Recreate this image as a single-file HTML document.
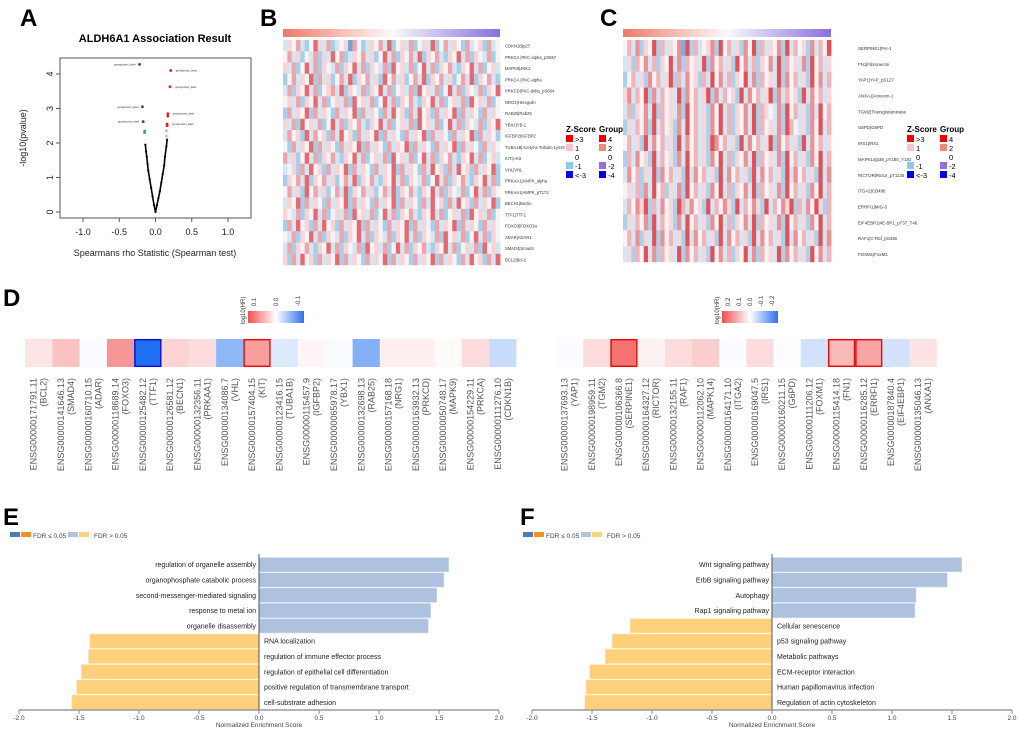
<!DOCTYPE html>
<html><head><meta charset="utf-8"><style>
html,body{margin:0;padding:0;background:#fff}
svg{display:block;font-family:"Liberation Sans",sans-serif}
</style></head><body>
<svg id="fig" width="1020" height="730" viewBox="0 0 1020 730">
<defs>
<linearGradient id="gB" x1="0" x2="1"><stop offset="0" stop-color="#f07a6a"/><stop offset="0.5" stop-color="#fafafa"/><stop offset="1" stop-color="#8a6ee0"/></linearGradient>
<linearGradient id="gD" x1="0" x2="1"><stop offset="0" stop-color="#f05050"/><stop offset="0.5" stop-color="#ffffff"/><stop offset="1" stop-color="#3070f0"/></linearGradient>
</defs>
<g id="panels"></g>
</svg>
<script>
// ---------- Panel A data ----------
const aRho = [0,-0.02,-0.04,-0.06,-0.08,-0.10,-0.11,-0.12,-0.13,-0.14,0.02,0.04,0.06,0.08,0.10,0.12,0.13,0.15,0.16];
const aLogP = [0,0.2,0.45,0.7,0.95,1.2,1.4,1.6,1.75,1.95,0.2,0.4,0.6,0.85,1.1,1.35,1.6,1.9,2.1];
const aSigRho = [-0.22,-0.18,-0.17,-0.15,-0.15,0.21,0.20,0.17,0.17,0.16,0.16,0.15,0.15];
const aSigLogP = [4.28,3.05,2.62,2.35,2.3,4.1,3.63,2.85,2.78,2.55,2.5,2.35,2.2];
const aSigCol = ['#1a5e1a','#1a5e1a','#1a5e1a','#3cb04a','#3cb04a','#e02020','#e02020','#e02020','#e02020','#e02020','#e02020','#f4a0a0','#f4a0a0'];
const aXTicks = [-1.0,-0.5,0.0,0.5,1.0];
const aYTicks = [0,1,2,3,4];
// ---------- Panel B / C heatmap data (digits 0..8 = z-score bins) ----------
const bRows = ["CDKN1B|p27","PRKCA |PKC-alpha_pS657","MAPK9|JNK2","PRKCA |PKC-alpha","PRKCD|PKC-delta_pS664","NRG1|Heregulin","RAB25|Rab25","YBX1|YB-1","IGFBP2|IGFBP2","TUBA1B|Acetyl-a-Tubulin-Lys40","KIT|c-Kit","VHL|VHL","PRKAA1|AMPK_alpha","PRKAA1|AMPK_pT172","BECN1|Beclin","TTF1|TTF1","FOXO3|FOXO3a","ADAR|ADAR1","SMAD4|Smad4","BCL2|Bcl-2"];
const bVals = [
"35463247536234516423546372453624537246354263452634",
"46352436253746235463524736254637254632547362543624",
"53624736254362547362543627453624736254632547362453",
"24635472635246372546352746352463725463524637254632",
"36254736245637254362547362453627453624736254362547",
"45362547362453627453624736254632547362453627453624",
"26354726354263547263542637452637452635472635426354",
"53627453624736254632547362453627453624736254362547",
"36452736452637452635472635426354726354263547263542",
"42635472635426354726354263547263542635472635426354",
"63524736254632547362453627453624736254632547362453",
"34526374526354726354263547263542637452637452635472",
"25463725463524637254632547362543624736254632547362",
"46352746352463725463524637254632547362543624736254",
"35472635426354726354263547263542637452637452635472",
"54362547362453627453624736254632547362453627453624",
"26374526374526354726354263547263542635472635426354",
"43625473625436254736254362547362543627453624736254",
"36254632547362543627453624736254632547362453627453",
"52637452635472635426354726354263547263542637452637"];
const cRows = ["SERPINE1|PAI-1","FN1|Fibronectin","YAP1|YAP_pS127","ANXA1|Annexin-1","TGM2|Transglutaminase","G6PD|G6PD","IRS1|IRS1","MAPK14|p38_pT180_Y182","RICTOR|Rictor_pT1135","ITGA2|CD49b","ERRFI1|MIG-6","EIF4EBP1|4E-BP1_pT37_T46","RAF1|C-Raf_pS338","FOXM1|FoxM1"];
const cVals = [
"46372548263547182634572846352748263547283645273648",
"35264736254837264538274635284736254738264537284635",
"24635274635826374526384736254837264538274635284736",
"57364827364538274635827364528374635827364528374635",
"36254738264537284635274836254738265437284635273846",
"25364728364527384635274836254738264537286435274836",
"46352837463528374635287463528374635827463528374635",
"26374528364527384635274836254738264537284635274836",
"37462538274635283746352837463528374635283746352837",
"45362738462537284635274836254738264537284635274836",
"36475826374528637452836475283647528364758263748526",
"25364728364527384635274836254738264537284635274836",
"46372538274635283746352837463528374635283746352837",
"35264837264538274635284736254837264538274635284736"];
// ---------- Panel D data ----------
const dGenes = ["BCL2","SMAD4","ADAR","FOXO3","TTF1","BECN1","PRKAA1","VHL","KIT","TUBA1B","IGFBP2","YBX1","RAB25","NRG1","PRKCD","MAPK9","PRKCA","CDKN1B"];
const dIds = ["ENSG00000171791.11","ENSG00000141646.13","ENSG00000160710.15","ENSG00000118689.14","ENSG00000125482.12","ENSG00000126581.12","ENSG00000132356.11","ENSG00000134086.7","ENSG00000157404.15","ENSG00000123416.15","ENSG00000115457.9","ENSG00000065978.17","ENSG00000132698.13","ENSG00000157168.18","ENSG00000163932.13","ENSG00000050748.17","ENSG00000154229.11","ENSG00000111276.10"];
const dHR = [0.03,0.07,-0.005,0.12,-0.2,0.05,0.04,-0.1,0.11,-0.03,0.01,-0.005,-0.11,0.02,0.02,0.005,0.04,-0.05];
const dSig = [0,0,0,0,1,0,0,0,1,0,0,0,0,0,0,0,0,0];
const d2Genes = ["YAP1","TGM2","SERPINE1","RICTOR","RAF1","MAPK14","ITGA2","IRS1","G6PD","FOXM1","FN1","ERRFI1","EIF4EBP1","ANXA1"];
const d2Ids = ["ENSG00000137693.13","ENSG00000198959.11","ENSG00000106366.8","ENSG00000164327.12","ENSG00000132155.11","ENSG00000112062.10","ENSG00000164171.10","ENSG00000169047.5","ENSG00000160211.15","ENSG00000111206.12","ENSG00000115414.18","ENSG00000116285.12","ENSG00000187840.4","ENSG00000135046.13"];
const d2HR = [-0.005,0.05,0.2,0.02,0.05,0.07,-0.005,0.05,-0.003,-0.05,0.1,0.13,-0.05,0.04];
const d2Sig = [0,0,1,0,0,0,0,0,0,0,1,1,0,0];
// ---------- Panel E / F data ----------
const eTerms = ["regulation of organelle assembly","organophosphate catabolic process","second-messenger-mediated signaling","response to metal ion","organelle disassembly","RNA localization","regulation of immune effector process","regulation of epithelial cell differentiation","positive regulation of transmembrane transport","cell-substrate adhesion"];
const eNES = [1.58,1.54,1.48,1.43,1.41,-1.41,-1.42,-1.48,-1.52,-1.56];
const fTerms = ["Wnt signaling pathway","ErbB signaling pathway","Autophagy","Rap1 signaling pathway","Cellular senescence","p53 signaling pathway","Metabolic pathways","ECM-receptor interaction","Human papillomavirus infection","Regulation of actin cytoskeleton"];
const fNES = [1.58,1.46,1.20,1.19,-1.18,-1.33,-1.39,-1.52,-1.55,-1.56];
const nesTicks = [-2.0,-1.5,-1.0,-0.5,0.0,0.5,1.0,1.5,2.0];

const NS="http://www.w3.org/2000/svg";
const root=document.getElementById('panels');
function el(tag,attrs,parent,text){const e=document.createElementNS(NS,tag);for(const k in attrs)e.setAttribute(k,attrs[k]);if(text!==undefined)e.textContent=text;(parent||root).appendChild(e);return e;}
function grp(name){const g=el('g',{});


return g;}
function letter(t,x,y){const e=el('text',{x:x,y:y,'font-size':24,'font-weight':'bold',fill:'#000'},root,t);

}

// ===== Panel A =====
(function(){
const g=grp('volcano-plot');
const x0=155.5,kx=72.5,y0=212,ky=34.5;
const X=v=>x0+v*kx, Y=v=>y0-v*ky;
el('rect',{x:60,y:58,width:191,height:160,fill:'none',stroke:'#555','stroke-width':1},g);
const t=el('text',{x:155,y:42,'text-anchor':'middle','font-size':11,'font-weight':'bold'},g,'ALDH6A1 Association Result');


aXTicks.forEach(v=>{el('line',{x1:X(v),x2:X(v),y1:218,y2:222,stroke:'#555'},g);
el('text',{x:X(v),y:235,'text-anchor':'middle','font-size':9,fill:'#222'},g,v.toFixed(1));});
aYTicks.forEach(v=>{el('line',{x1:56,x2:60,y1:Y(v),y2:Y(v),stroke:'#555'},g);
el('text',{x:50,y:Y(v),'text-anchor':'middle','font-size':9,fill:'#222',transform:`rotate(-90 50 ${Y(v)})`,dy:3},g,String(v));});
const xl=el('text',{x:155,y:256,'text-anchor':'middle','font-size':9,fill:'#222'},g,'Spearmans rho Statistic (Spearman test)');


const yl=el('text',{x:26,y:138,'text-anchor':'middle','font-size':9,fill:'#222',transform:'rotate(-90 26 138)'},g,'-log10(pvalue)');


const left=[],right=[];
aRho.forEach((r,i)=>{(r<=0?left:right).push([X(r),Y(aLogP[i])]);});
right.unshift([X(0),Y(0)]);
[left,right].forEach(arr=>{el('polyline',{points:arr.map(p=>p.join(',')).join(' '),fill:'none',stroke:'#000','stroke-width':1.6},g);});
aRho.forEach((r,i)=>{const c=el('circle',{cx:X(r),cy:Y(aLogP[i]),r:1.1,fill:'#000'},g);

});
aSigRho.forEach((r,i)=>{const c=el('circle',{cx:X(r),cy:Y(aSigLogP[i]),r:1.4,fill:aSigCol[i]},g);


if(i<3||i===5||i===6||i===7||i===9){const lx=r<0?X(r)-4:X(r)+5;
el('text',{x:lx,y:Y(aSigLogP[i])+1,'font-size':2.6,fill:'#333','text-anchor':r<0?'end':'start'},g,'gene|protein_label');}});
})();
letter('A',20,26);

// ===== Heatmaps B / C =====
const zcol=['#1a2ae0','#6aa6dc','#a6d0ea','#d4e6f2','#f5f3f4','#f6d4d8','#f0a4aa','#e86870','#e02830'];
const zcolC=['#3a4ae0','#7ab0e0','#acd2ea','#d4e6f2','#f5f3f4','#f6d8dc','#f2b4b8','#ec9098','#e25058'];
function heatmap(name,x,y,w,h,rows,vals,labX,fs,pal){
const g=grp(name);
el('rect',{x:x,y:y-11,width:w,height:8,fill:'url(#gB)'},g);
const rh=h/rows.length;
vals.forEach((s,ri)=>{const cw=w/s.length;
for(let ci=0;ci<s.length;ci++){const c=el('rect',{x:x+ci*cw,y:y+ri*rh,width:cw+0.4,height:rh+0.2,fill:pal[+s[ci]]},g);

}});
rows.forEach((r,ri)=>{el('text',{x:labX,y:y+ri*rh+rh/2+2,'font-size':fs,fill:'#333'},g,r);});
}
heatmap('heatmap-b',283,40,217,225,bRows,bVals,505,4.2,zcol);
heatmap('heatmap-c',623,40,208,222,cRows,cVals,858,4.4,zcolC);
function zlegend(name,x,y){
const g=grp(name);
el('text',{x:x,y:y,'font-size':8,'font-weight':'bold'},g,'Z-Score');
el('text',{x:x+33,y:y,'font-size':8,'font-weight':'bold'},g,'Group');
const zc=['#f00000','#f4c4cc',null,'#88ccec','#0000f0'],zl=['>3','1','0','-1','<-3'];
const gc=['#f00000','#f08878',null,'#9070e0','#0000f0'],gl=['4','2','0','-2','-4'];
for(let i=0;i<5;i++){const yy=y+3+i*9;
if(zc[i])el('rect',{x:x,y:yy,width:7,height:7,fill:zc[i]},g);
if(gc[i])el('rect',{x:x+33,y:yy,width:7,height:7,fill:gc[i]},g);
el('text',{x:x+9,y:yy+7,'font-size':7.5},g,zl[i]);
el('text',{x:x+42,y:yy+7,'font-size':7.5},g,gl[i]);}
}
zlegend('legend-b',566,132);
zlegend('legend-c',907,132);
letter('B',260,26);
letter('C',600,26);

// ===== Panel D =====
function hrColor(v,m){const t=Math.max(-1,Math.min(1,v/m));
if(t>=0){return `rgb(${255-Math.round(t*15)},${Math.round(255-t*175)},${Math.round(255-t*175)})`;}
const u=-t;return `rgb(${Math.round(255-u*225)},${Math.round(255-u*143)},${Math.round(255-u*15)})`;}
function hrStrip(name,x,y,cw,h,ids,genes,hr,sig,m,cbx,ticks){
const g=grp(name);
ids.forEach((id,i)=>{const cx=x+i*cw;
const c=el('rect',{x:cx,y:y,width:cw,height:h,fill:hrColor(hr[i],m)},g);


if(sig[i])el('rect',{x:cx+0.7,y:y+0.7,width:cw-1.4,height:h-1.4,fill:'none',stroke:hr[i]>0?'#e01010':'#1010d0','stroke-width':1.5},g);
const mx=cx+cw/2, ty=y+39;
el('text',{x:mx-2,y:ty,'font-size':9,fill:'#555','text-anchor':'end',transform:`rotate(-90 ${mx-2} ${ty})`},g,id);
el('text',{x:mx+8,y:ty,'font-size':9,fill:'#555','text-anchor':'end',transform:`rotate(-90 ${mx+8} ${ty})`},g,'('+genes[i]+')');});
const cb=grp(name+'-colorbar');
el('rect',{x:cbx,y:311,width:56,height:12,fill:'url(#gD)'},cb);
el('text',{x:cbx-3,y:324,'font-size':6,fill:'#333',transform:`rotate(-90 ${cbx-3} 324)`},cb,'log10(HR)');
ticks.forEach((t,i)=>{const tx=cbx+6+i*(44/(ticks.length-1));
el('text',{x:tx+2,y:306,'font-size':6,fill:'#333',transform:`rotate(-90 ${tx+2} 306)`},cb,t);});
}
hrStrip('hr-heatmap-left',25,339,27.3,28,dIds,dGenes,dHR,dSig,0.2,248,['0.1','0.0','-0.1']);
hrStrip('hr-heatmap-right',556,339,27.2,28,d2Ids,d2Genes,d2HR,d2Sig,0.25,722,['0.2','0.1','0.0','-0.1','-0.2']);
letter('D',3,306);

// ===== Panels E / F =====
function gsea(name,z0,terms,nes){
const g=grp(name);
const X=v=>z0+v*120, top=557, rh=15.3;
const lg=grp(name+'-legend');
const lx=z0-249;
el('rect',{x:lx,y:532,width:10,height:5,fill:'#4a7db5'},lg);
el('rect',{x:lx+11,y:532,width:10,height:5,fill:'#f7901e'},lg);
el('text',{x:lx+23,y:538,'font-size':6.5,fill:'#444'},lg,'FDR ≤ 0.05');
el('rect',{x:lx+58,y:532,width:10,height:5,fill:'#b0c4de'},lg);
el('rect',{x:lx+69,y:532,width:10,height:5,fill:'#fdd27a'},lg);
el('text',{x:lx+84,y:538,'font-size':6.5,fill:'#444'},lg,'FDR > 0.05');
nes.forEach((v,i)=>{const y=top+i*rh;
const b=el('rect',{x:Math.min(X(0),X(v)),y:y+0.6,width:Math.abs(X(v)-X(0)),height:rh-1.2,fill:v>0?'#aec2df':'#fdd07b',stroke:v>0?'#c6d4e8':'#fee0a8','stroke-width':0.6},g);


el('text',{x:v>0?X(0)-3:X(0)+5,y:y+rh/2+2.5,'font-size':7,fill:'#222','text-anchor':v>0?'end':'start'},g,terms[i]);});
el('line',{x1:X(0),x2:X(0),y1:top-3,y2:710,stroke:'#333','stroke-width':0.8},g);
el('line',{x1:X(-2),x2:X(2),y1:710,y2:710,stroke:'#888','stroke-width':1.2},g);
nesTicks.forEach(t=>{el('line',{x1:X(t),x2:X(t),y1:710,y2:714,stroke:'#888'},g);
el('text',{x:X(t),y:720,'font-size':6.5,fill:'#444','text-anchor':'middle'},g,t.toFixed(1));});
const xt=el('text',{x:X(0),y:727,'font-size':6.5,fill:'#444','text-anchor':'middle'},g,'Normalized Enrichment Score');


}
gsea('gsea-chart-e',259,eTerms,eNES);
gsea('gsea-chart-f',772,fTerms,fNES);
letter('E',3,525);
letter('F',520,525);
</script>
</body></html>
